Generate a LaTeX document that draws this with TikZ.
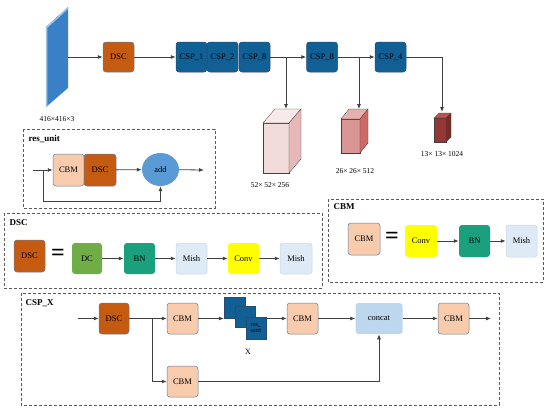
\documentclass[tikz,border=0pt]{standalone}
\usepackage{fontspec}
\setmainfont{Liberation Serif}
\usepackage{tikz}
\usetikzlibrary{positioning, arrows.meta, shapes.geometric, calc}
\definecolor{dscOrange}{RGB}{197,90,17}
\definecolor{cspBlue}{RGB}{16,96,150}
\definecolor{cspEdge}{RGB}{40,75,110}
\definecolor{boxEdge}{RGB}{95,127,159}
\definecolor{cbmPeach}{RGB}{248,203,173}
\definecolor{addBlue}{RGB}{91,155,213}
\definecolor{dcGreen}{RGB}{112,173,71}
\definecolor{bnTeal}{RGB}{26,160,125}
\definecolor{mishPale}{RGB}{222,235,247}
\definecolor{mishEdge}{RGB}{200,212,226}
\definecolor{convYellow}{RGB}{255,255,0}
\definecolor{concatBlue}{RGB}{189,215,238}
\definecolor{planeBlue}{RGB}{58,128,198}
\definecolor{planeLight}{RGB}{157,195,230}
\definecolor{lineGray}{RGB}{64,64,64}
\definecolor{frameGray}{RGB}{90,90,90}
\definecolor{featA}{RGB}{242,220,219}
\definecolor{featAside}{RGB}{230,185,184}
\definecolor{featAtop}{RGB}{248,234,233}
\definecolor{featB}{RGB}{217,150,148}
\definecolor{featBside}{RGB}{205,106,102}
\definecolor{featBtop}{RGB}{230,176,174}
\definecolor{featC}{RGB}{149,55,53}
\definecolor{featCside}{RGB}{119,44,42}
\definecolor{featCtop}{RGB}{192,80,77}

\begin{document}
\begin{tikzpicture}[x=1pt, y=-1pt,
    font=\fontsize{8.5}{10}\selectfont,
    blk/.style={rectangle, rounded corners=3pt, inner sep=0pt, minimum width=31pt, minimum height=31pt, line width=0.5pt},
    dscblk/.style={blk, fill=dscOrange, draw=boxEdge},
    cspblk/.style={blk, fill=cspBlue, draw=cspEdge, minimum height=30pt},
    cbmblk/.style={blk, fill=cbmPeach, draw=boxEdge},
    bnblk/.style={blk, fill=bnTeal},
    mishblk/.style={blk, fill=mishPale, draw=mishEdge},
    convblk/.style={blk, fill=convYellow},
    resblk/.style={rectangle, inner sep=0pt, minimum width=21pt, minimum height=21pt, fill=cspBlue, draw=cspEdge, line width=0.3pt},
    frame/.style={dashed, draw=frameGray, line width=0.8pt, dash pattern=on 3pt off 2pt},
    title/.style={anchor=west, font=\fontsize{9}{10}\selectfont\bfseries},
    dimlabel/.style={font=\fontsize{7.5}{9}\selectfont},
    eqsign/.style={font=\fontsize{24}{24}\selectfont\bfseries, inner sep=0pt},
    arr/.style={-{Latex[length=5pt,width=4pt]}, draw=lineGray, line width=0.8pt},
    edge3d/.style={draw=lineGray, line width=0.3pt}]
\useasboundingbox (0,0) rectangle (550,410);

% backbone
\fill[planeBlue] (46,27) -- (68,7) -- (68,88) -- (46,107) -- cycle;
\draw[planeLight, line width=1.5pt] (46.7,107) -- (46.7,27.5) -- (68,8);
\coordinate (inRight) at (68,57);
\node[dimlabel] (inLabel) at (57,119) {416×416×3};

\node[dscblk, minimum height=30pt] (dsc0) at (118.5,57) {DSC};
\node[cspblk] (csp1) at (191.5,57) {CSP\_1};
\node[cspblk] (csp2) at (222.5,57) {CSP\_2};
\node[cspblk] (csp3) at (254.5,57) {CSP\_8};
\node[cspblk] (csp8) at (322,57) {CSP\_8};
\node[cspblk] (csp4) at (390.5,57) {CSP\_4};

\draw[arr] (inRight) -- (dsc0);
\draw[arr] (dsc0) -- (csp1);
\draw[arr] (csp3) -- (csp8);
\draw[arr] (csp8) -- (csp4);

% feature maps
\filldraw[featA, edge3d] (263,123) rectangle (289,173);
\filldraw[featAtop, edge3d] (263,123) -- (289,123) -- (301,109) -- (275,109) -- cycle;
\filldraw[featAside, edge3d] (289,123) -- (301,109) -- (301,159) -- (289,173) -- cycle;
\filldraw[featB, edge3d] (341,119) rectangle (360,153);
\filldraw[featBtop, edge3d] (341,119) -- (360,119) -- (368,109) -- (349,109) -- cycle;
\filldraw[featBside, edge3d] (360,119) -- (368,109) -- (368,143) -- (360,153) -- cycle;
\filldraw[featC, edge3d] (434,118) rectangle (446,142);
\filldraw[featCtop, edge3d] (434,118) -- (446,118) -- (451,113) -- (439,113) -- cycle;
\filldraw[featCside, edge3d] (446,118) -- (451,113) -- (451,137) -- (446,142) -- cycle;
\coordinate (fA) at (286,109);
\coordinate (fB) at (359,109);
\coordinate (fC) at (442,112);
\node[dimlabel] (fAlabel) at (270,185) {52× 52× 256};
\node[dimlabel] (fBlabel) at (355,171) {26× 26× 512};
\node[dimlabel] (fClabel) at (442,154) {13× 13× 1024};

\draw[arr] (csp3.east -| fA) -- (fA);
\draw[arr] (csp8.east -| fB) -- (fB);
\draw[arr] (csp4.east) -| (fC);

% res_unit
\draw[frame] (23,129) rectangle (215,208);
\node[title] (resTitle) at (25,139) {res\_unit};
\node[cbmblk, minimum height=32pt] (rcbm) at (68.5,170) {CBM};
\node[dscblk, minimum width=32pt, minimum height=32pt] (rdsc) at (100,170) {DSC};
\node[ellipse, fill=addBlue, minimum width=37pt, minimum height=33pt, inner sep=0pt] (add) at (160.5,169.5) {add};
\coordinate (rin) at (33,170);
\coordinate (rsplit) at (43,170);
\coordinate (rout) at (204,170);
\draw[arr] (rin) -- (rcbm);
\draw[arr] (rdsc) -- (add);
\draw[arr] (add) -- (rout);
\draw[arr] (rsplit) -- ++(0,31) -| (add.south);

% DSC
\draw[frame] (4,213) rectangle (322,288);
\node[title] (dscTitle) at (6,223) {DSC};
\node[dscblk, minimum height=32pt] (dscB) at (29.5,256) {DSC};
\node[eqsign] (eq1) at (58,255) {=};
\node[blk, fill=dcGreen, minimum width=30pt] (dc) at (87,258.5) {DC};
\node[bnblk] (bn1) at (139.5,258.5) {BN};
\node[mishblk] (mish1) at (191.5,258.5) {Mish};
\node[convblk] (conv1) at (243.5,258.5) {Conv};
\node[mishblk, minimum width=32pt] (mish2) at (296,258.5) {Mish};
\draw[arr] (dc) -- (bn1);
\draw[arr] (bn1) -- (mish1);
\draw[arr] (mish1) -- (conv1);
\draw[arr] (conv1) -- (mish2);

% CBM
\draw[frame] (328,199) rectangle (543,282);
\node[title] (cbmTitle) at (330,207) {CBM};
\node[cbmblk, minimum width=32pt, minimum height=32pt] (cbmB) at (364,239) {CBM};
\node[eqsign] (eq2) at (392,238) {=};
\node[convblk, minimum width=32pt, minimum height=32pt] (conv2) at (421,241) {Conv};
\node[bnblk, minimum height=32pt] (bn2) at (474.5,241) {BN};
\node[mishblk, minimum height=32pt] (mish3) at (521.5,241) {Mish};
\draw[arr] (conv2) -- (bn2);
\draw[arr] (bn2) -- (mish3);

% CSP_X
\draw[frame] (21,293) rectangle (499,405);
\node[title] (cspTitle) at (22,303) {CSP\_X};
\coordinate (xin) at (78,318.5);
\node[dscblk, minimum width=30pt] (xdsc) at (114,318.5) {DSC};
\coordinate (xsplit) at (152,318.5);
\node[cbmblk] (xcbm1) at (182.5,318.5) {CBM};
\node[cbmblk] (xcbm2) at (182.5,381.5) {CBM};
\node[resblk] (ru1) at (234.5,307.5) {};
\node[resblk, minimum width=20pt] (ru2) at (245,316.5) {};
\node[resblk, minimum width=20pt, minimum height=22pt, align=center, font=\fontsize{6.5}{6.5}\selectfont] (ru3) at (256,328) {res\_\\unit};
\node[font=\fontsize{8}{9}\selectfont] (xlabel) at (248,352) {X};
\node[cbmblk] (xcbm3) at (302.5,318.5) {CBM};
\node[blk, fill=concatBlue, minimum width=47pt] (concat) at (379,318.5) {concat};
\node[cbmblk] (xcbm4) at (453.5,318.5) {CBM};
\coordinate (xout) at (491,318.5);
\draw[arr] (xin) -- (xdsc);
\draw[arr] (xdsc) -- (xcbm1);
\draw[arr] (xsplit) |- (xcbm2);
\draw[arr] (xcbm1.east) -- (xcbm1.east -| ru1.west);
\draw[arr] (xcbm3.west -| ru3.east) -- (xcbm3.west);
\draw[arr] (xcbm3) -- (concat);
\draw[arr] (xcbm2.east) -| (concat.south);
\draw[arr] (concat) -- (xcbm4);
\draw[arr] (xcbm4) -- (xout);
\end{tikzpicture}
\end{document}
